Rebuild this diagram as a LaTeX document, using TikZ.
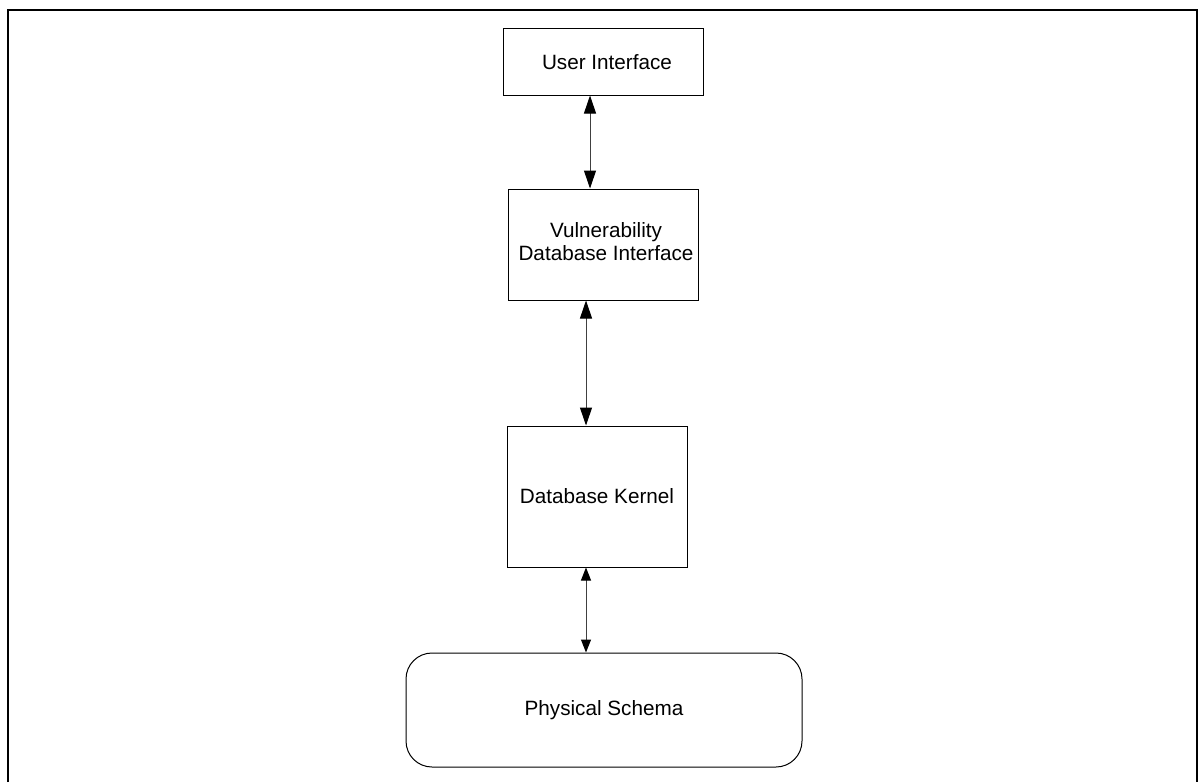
\documentclass[tikz,border=0pt]{standalone}
\usepackage{fontspec}
\setmainfont{Liberation Sans}
\usetikzlibrary{arrows.meta}
\begin{document}
\begin{tikzpicture}[x=0.5pt,y=-0.5pt,
  every node/.style={font=\fontsize{10.35}{11.5}\selectfont},
  blockbox/.style={draw, line width=0.5pt, inner sep=0pt, align=center},
  link/.style={line width=0.5pt, draw=black!75, {Triangle[length=9pt,width=6pt,color=black]}-{Triangle[length=9pt,width=6pt,color=black]}},
  smalllink/.style={line width=0.5pt, draw=black!75, {Triangle[length=6.5pt,width=5pt,color=black]}-{Triangle[length=6.5pt,width=5pt,color=black]}},
  frameline/.style={line width=0.9pt}]
\useasboundingbox (0,0) rectangle (1199,782);
\draw[frameline] (8,782) -- (8,10) -- (1197,10) -- (1197,782);
\node[blockbox, minimum width=100pt, minimum height=33.5pt] (ui) at (603,61.5) {};
\node (uit) at (607,62) {User Interface};
\node[blockbox, minimum width=95pt, minimum height=55.5pt] (vdi) at (603,244.5) {};
\node (vdit) at (606,241.5) [align=center] {Vulnerability\\Database Interface};
\node[blockbox, minimum width=90pt, minimum height=70.5pt] (dk) at (597,496.5) {Database Kernel};
\node[blockbox, rounded corners=13pt, minimum width=198pt, minimum height=57pt] (ps) at (604,710) {Physical Schema};
\draw[link] ([xshift=-6.5pt]ui.south) -- ([xshift=-6.5pt]vdi.north);
\draw[link] ([xshift=-8.5pt]vdi.south) -- ([xshift=-5.5pt]dk.north);
\draw[smalllink] ([xshift=-5.5pt]dk.south) -- ([xshift=-9pt]ps.north);
\end{tikzpicture}
\end{document}
